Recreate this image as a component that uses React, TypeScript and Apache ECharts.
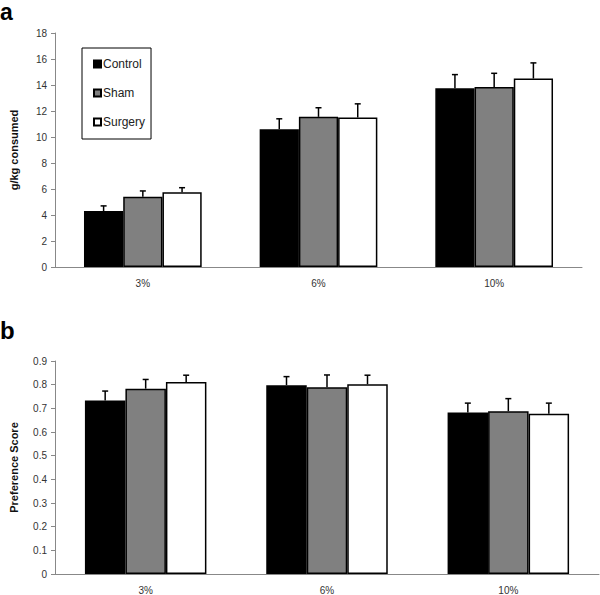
import React, { useEffect, useRef } from "react";
import * as echarts from "echarts";

const categories = ["3%", "6%", "10%"];
const seriesNames = ["Control", "Sham", "Surgery"];
const seriesColors = ["#000000", "#808080", "#ffffff"];

const consumedControl = [4.3, 10.6, 13.75];
const consumedControlErr = [0.4, 0.8, 1.05];
const consumedSham = [5.4, 11.55, 13.85];
const consumedShamErr = [0.45, 0.7, 1.05];
const consumedSurgery = [5.75, 11.5, 14.5];
const consumedSurgeryErr = [0.35, 1.05, 1.2];

const prefControl = [0.733, 0.798, 0.682];
const prefControlErr = [0.04, 0.036, 0.04];
const prefSham = [0.783, 0.789, 0.688];
const prefShamErr = [0.039, 0.052, 0.053];
const prefSurgery = [0.811, 0.802, 0.677];
const prefSurgeryErr = [0.029, 0.038, 0.045];

const FONT = "Liberation Sans, Arial, sans-serif";

export default function App() {
  const ref = useRef<HTMLDivElement>(null);
  useEffect(() => {
    if (!ref.current) return;
    const chart = echarts.init(ref.current, null, { renderer: "svg" });
    const gap = 0.33;

    const panels = [
      { vals: [consumedControl, consumedSham, consumedSurgery], errs: [consumedControlErr, consumedShamErr, consumedSurgeryErr] },
      { vals: [prefControl, prefSham, prefSurgery], errs: [prefControlErr, prefShamErr, prefSurgeryErr] },
    ];

    const series: any[] = [];
    panels.forEach((p, gi) => {
      p.vals.forEach((v, si) => {
        series.push({
          type: "bar",
          name: seriesNames[si],
          xAxisIndex: gi,
          yAxisIndex: gi,
          data: v,
          barGap: "0%",
          barCategoryGap: "33%",
          itemStyle: { color: seriesColors[si], borderColor: "#000", borderWidth: 1.5 },
          emphasis: { disabled: true },
        });
      });
      p.vals.forEach((v, si) => {
        series.push({
          type: "custom",
          xAxisIndex: gi,
          yAxisIndex: gi,
          silent: true,
          z: 10,
          data: v.map((val, i) => [i, val, val + p.errs[si][i]]),
          renderItem: (params: any, api: any) => {
            const idx = api.value(0);
            const base = api.coord([idx, api.value(1)]);
            const top = api.coord([idx, api.value(2)]);
            const cw = api.size([1, 0])[0];
            const bw = (cw * (1 - gap)) / 3;
            const x = base[0] + (si - 1) * bw;
            const style = { stroke: "#000", lineWidth: 1.5 };
            return {
              type: "group",
              children: [
                { type: "line", shape: { x1: x, y1: base[1], x2: x, y2: top[1] }, style },
                { type: "line", shape: { x1: x - 3, y1: top[1], x2: x + 3, y2: top[1] }, style },
              ],
            };
          },
        });
      });
    });

    const axisLine = { lineStyle: { color: "#888", width: 1 } };
    const axisTick = { length: 4, lineStyle: { color: "#888" } };
    const labelStyle = { color: "#333", fontSize: 10, fontFamily: FONT };

    chart.setOption({
      animation: false,
      textStyle: { fontFamily: FONT },
      grid: [
        { left: 53, top: 33, width: 529, height: 234 },
        { left: 53, top: 361, width: 546, height: 215 },
      ],
      legend: {
        data: seriesNames,
        orient: "vertical",
        left: 82,
        top: 48,
        width: 65,
        itemWidth: 7,
        itemHeight: 7,
        itemGap: 17,
        padding: [10, 6, 11, 11],
        borderColor: "#000",
        borderWidth: 1,
        selectedMode: false,
        icon: "rect",
        textStyle: { fontSize: 12, color: "#222", fontFamily: FONT, padding: [0, 0, 0, -3] },
      },
      xAxis: [0, 1].map((gi) => ({
        type: "category",
        gridIndex: gi,
        data: categories,
        axisLine,
        axisTick: { ...axisTick, alignWithLabel: false },
        axisLabel: { ...labelStyle, margin: 11 },
      })),
      yAxis: [
        {
          type: "value",
          gridIndex: 0,
          min: 0,
          max: 18,
          interval: 2,
          splitLine: { show: false },
          axisLine: { show: true, ...axisLine },
          axisTick: { show: true, ...axisTick },
          axisLabel: { ...labelStyle, margin: 8 },
          name: "g/kg consumed",
          nameLocation: "middle",
          nameGap: 36,
          nameTextStyle: { fontWeight: "bold", fontSize: 11, color: "#111", fontFamily: FONT },
        },
        {
          type: "value",
          gridIndex: 1,
          min: 0,
          max: 0.9,
          interval: 0.1,
          splitLine: { show: false },
          axisLine: { show: true, ...axisLine },
          axisTick: { show: true, ...axisTick },
          axisLabel: { ...labelStyle, margin: 8, formatter: (v: number) => (Math.round(v * 10) / 10).toString() },
          name: "Preference Score",
          nameLocation: "middle",
          nameGap: 36,
          nameTextStyle: { fontWeight: "bold", fontSize: 11, color: "#111", fontFamily: FONT },
        },
      ],
      graphic: [
        { type: "text", left: 0, top: 0, style: { text: "a", font: "bold 23px " + FONT, fill: "#000" } },
        { type: "text", left: 0, top: 318, style: { text: "b", font: "bold 24px " + FONT, fill: "#000" } },
      ],
      series,
    });
    return () => chart.dispose();
  }, []);
  return (
    <div
      ref={ref}
      style={{ position: "fixed", left: 0, top: 0, width: 600, height: 595, background: "#fff" }}
    />
  );
}
